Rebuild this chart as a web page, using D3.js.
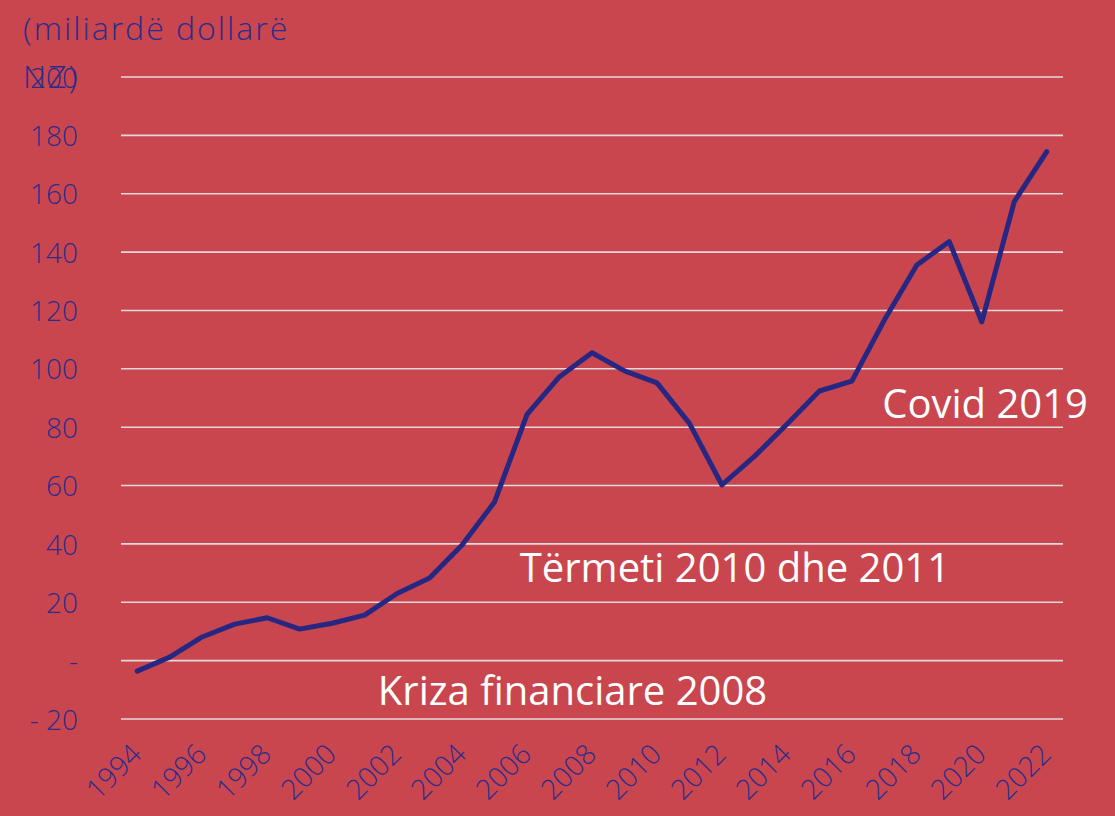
<!DOCTYPE html>
<html><head><meta charset="utf-8">
<script src="https://cdn.jsdelivr.net/npm/d3@7"></script>
<style>
html,body{margin:0;padding:0;background:#C9464F;}
svg{display:block;}
</style></head>
<body>
<svg id="chart" width="1115" height="816"></svg>
<script>
const years = d3.range(1994, 2023).map(String);
const values = [-3.6, 1.2, 8.1, 12.5, 14.7, 10.8, 12.8, 15.6, 23, 28.3, 39.6, 54.4, 84.4, 97.3, 105.5, 99.3, 95.2, 81.3, 60.2, 70, 81, 92.4, 95.8, 116.7, 135.6, 143.6, 116.1, 157.3, 174.4];
const yTicks = [-20, 0, 20, 40, 60, 80, 100, 120, 140, 160, 180, 200];
const xTickLabels = ["1994","1996","1998","2000","2002","2004","2006","2008","2010","2012","2014","2016","2018","2020","2022"];
const yTitle = ["(miliardë dollarë", "NZ)"];
const annotations = [
  {text: "Covid 2019", year: 2020.1, value: 83.1},
  {text: "Tërmeti 2010 dhe 2011", year: 2012.4, value: 26.9},
  {text: "Kriza financiare 2008", year: 2007.4, value: -15.2}
];

const svg = d3.select("#chart");
const W = 1115, H = 816;
svg.append("rect").attr("width", W).attr("height", H).attr("fill", "#C9464F");

const x = d3.scaleBand().domain(years).range([121, 1063]);
const cx = yr => x(yr) + x.bandwidth() / 2;
const xLin = d3.scaleLinear().domain([1994, 2022]).range([cx("1994"), cx("2022")]);
const y = d3.scaleLinear().domain([-20, 200]).range([719, 77]);
const blue = "#2B2C8C";
const font = "'Open Sans', sans-serif";

// gridlines
svg.append("g").selectAll("line").data(yTicks).join("line")
  .attr("x1", 121).attr("x2", 1063)
  .attr("y1", d => y(d)).attr("y2", d => y(d))
  .attr("stroke", "#E3DADB").attr("stroke-width", 1.6);

// y axis
const yAxis = d3.axisLeft(y).tickValues(yTicks).tickSize(0).tickPadding(0)
  .tickFormat(d => d === 0 ? "-" : d < 0 ? "- " + Math.abs(d) : String(d));
const gy = svg.append("g").attr("transform", "translate(78,0)").call(yAxis);
gy.select(".domain").remove();
gy.selectAll("text").attr("fill", blue).attr("font-family", font)
  .attr("font-weight", 300).attr("font-size", 28).attr("dy", "0.36em");

// x axis
const xAxis = d3.axisBottom(x).tickValues(xTickLabels).tickSize(0).tickPadding(0);
const gx = svg.append("g").attr("transform", "translate(0,735)").call(xAxis);
gx.select(".domain").remove();
gx.selectAll("text").attr("fill", blue).attr("font-family", font)
  .attr("font-weight", 300).attr("font-size", 28)
  .attr("text-anchor", "end").attr("dy", 0).attr("y", 0)
  .attr("transform", "translate(6,21) rotate(-45)");

// y title
svg.append("text").attr("x", 23).attr("y", 40).attr("fill", blue)
  .attr("font-family", font).attr("font-weight", 300).attr("font-size", 32)
  .attr("letter-spacing", 2)
  .selectAll("tspan").data(yTitle).join("tspan")
  .attr("x", 23).attr("dy", (d, i) => i === 0 ? 0 : 48).text(d => d);

// line
const line = d3.line().x((d, i) => cx(years[i])).y(d => y(d));
svg.append("path").datum(values).attr("d", line)
  .attr("fill", "none").attr("stroke", "#262782").attr("stroke-width", 5)
  .attr("stroke-linejoin", "round").attr("stroke-linecap", "round");

// annotations
svg.append("g").selectAll("text").data(annotations).join("text")
  .attr("x", d => xLin(d.year)).attr("y", d => y(d.value))
  .attr("text-anchor", "middle").attr("fill", "#FFFFFF")
  .attr("font-family", font).attr("font-weight", 500).attr("font-size", 40)
  .text(d => d.text);
</script>
</body></html>
